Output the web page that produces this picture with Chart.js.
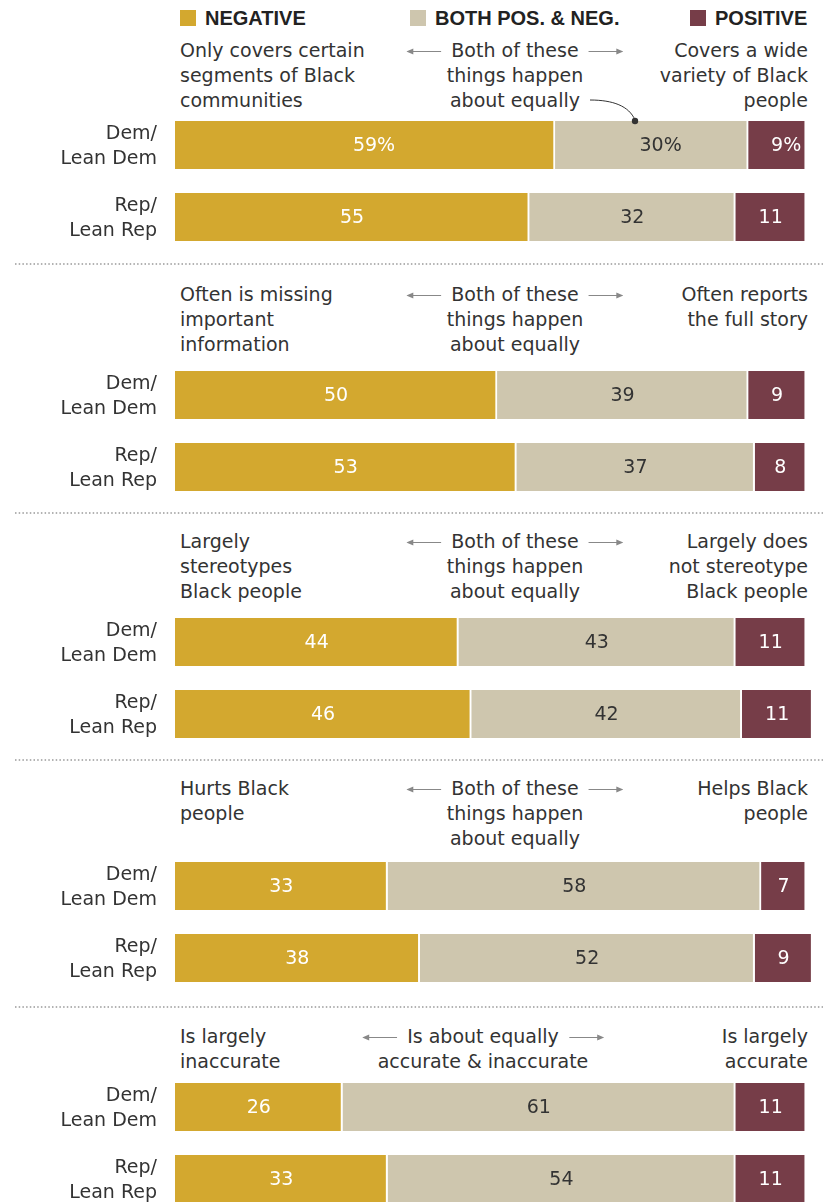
<!DOCTYPE html>
<html>
<head>
<meta charset="utf-8">
<script src="https://cdn.jsdelivr.net/npm/chart.js@4.4.1/dist/chart.umd.min.js"></script>
<style>
  body { margin:0; width:823px; height:1202px; overflow:hidden; background:#fff; position:relative;
         font-family:"DejaVu Sans", "Liberation Sans", Arial, sans-serif; color:#333; }
  .abs { position:absolute; white-space:nowrap; }
  .swatch { width:16px; height:16px; top:10px; }
  .legend { top:5px; font-family:"Liberation Sans", Arial, sans-serif; font-size:20px; line-height:26px; font-weight:bold; color:#222; }
  .hdr { font-size:19px; line-height:25px; }
  .hdr.left { left:180px; text-align:left; }
  .hdr.right { right:15px; text-align:right; }
  .hdr.mid { text-align:center; transform:translateX(-50%); }
  .hdr svg { vertical-align:middle; margin:0 10px; }
  canvas { position:absolute; left:0; }
  #overlay { position:absolute; left:0; top:0; z-index:5; pointer-events:none; }
</style>
</head>
<body>
<script>
// Survey values, one [Dem, Rep] pair per question
const groups = [['Dem/', 'Lean Dem'], ['Rep/', 'Lean Rep']];
const negative = [[59, 55], [50, 53], [44, 46], [33, 38], [26, 33]];
const both     = [[30, 32], [39, 37], [43, 42], [58, 52], [61, 54]];
const positive = [[9, 11], [9, 8], [11, 11], [7, 9], [11, 11]];

// Answer wording shown above each pair of bars
const leftText = [
  ['Only covers certain', 'segments of Black', 'communities'],
  ['Often is missing', 'important', 'information'],
  ['Largely', 'stereotypes', 'Black people'],
  ['Hurts Black', 'people'],
  ['Is largely', 'inaccurate']
];
const midText = [
  ['Both of these', 'things happen', 'about equally'],
  ['Both of these', 'things happen', 'about equally'],
  ['Both of these', 'things happen', 'about equally'],
  ['Both of these', 'things happen', 'about equally'],
  ['Is about equally', 'accurate & inaccurate']
];
const rightText = [
  ['Covers a wide', 'variety of Black', 'people'],
  ['Often reports', 'the full story'],
  ['Largely does', 'not stereotype', 'Black people'],
  ['Helps Black', 'people'],
  ['Is largely', 'accurate']
];
const legendNames = ['NEGATIVE', 'BOTH POS. & NEG.', 'POSITIVE'];

const colors = ['#D3A82F', '#CEC6AE', '#763D48'];
const labelColors = ['#fff', '#333', '#fff'];

// layout
const headerTops = [38, 282, 529, 776, 1024];
const midCenters = [515, 515, 515, 515, 483];
const chartTops = [109, 359, 606, 850, 1071];
const ruleYs = [264, 513, 760, 1007];
const legendX = [180, 410, 690];
const bodyFont = '"DejaVu Sans", "Liberation Sans", Arial, sans-serif';

Chart.defaults.font.family = bodyFont;

function el(tag, cls, css, html) {
  const d = document.createElement(tag);
  if (cls) d.className = cls;
  Object.assign(d.style, css);
  if (html !== undefined) d.innerHTML = html;
  document.body.appendChild(d);
  return d;
}

// legend
legendNames.forEach((name, i) => {
  el('div', 'abs swatch', { left: legendX[i] + 'px', background: colors[i] });
  el('div', 'abs legend', { left: (legendX[i] + 25) + 'px' }, name);
});

const arrowL = '<svg width="35" height="9"><line x1="5" y1="4.5" x2="35" y2="4.5" stroke="#888" stroke-width="1"/><polygon points="0,4.5 7,1.5 7,7.5" fill="#888"/></svg>';
const arrowR = '<svg width="35" height="9"><line x1="0" y1="4.5" x2="30" y2="4.5" stroke="#888" stroke-width="1"/><polygon points="35,4.5 28,1.5 28,7.5" fill="#888"/></svg>';

// draws the numbers inside the bar segments
function valueLabels(panel) {
  return {
    id: 'valueLabels',
    afterDatasetsDraw(chart) {
      const ctx = chart.ctx;
      ctx.save();
      ctx.font = '19px ' + bodyFont;
      ctx.textBaseline = 'middle';
      chart.data.datasets.forEach((ds, di) => {
        chart.getDatasetMeta(di).data.forEach((bar, j) => {
          const txt = String(ds.data[j]);
          const cx = (bar.x + bar.base) / 2;
          ctx.fillStyle = labelColors[di];
          ctx.textAlign = 'center';
          ctx.fillText(txt, cx, bar.y + 1);
          if (panel === 0 && j === 0) {
            ctx.textAlign = 'left';
            ctx.fillText('%', cx + ctx.measureText(txt).width / 2, bar.y + 1);
          }
        });
      });
      ctx.restore();
    }
  };
}

for (let i = 0; i < negative.length; i++) {
  el('div', 'abs hdr left', { top: headerTops[i] + 'px' }, leftText[i].join('<br>'));
  const mid = midText[i].slice();
  mid[0] = arrowL + mid[0] + arrowR;
  el('div', 'abs hdr mid', { top: headerTops[i] + 'px', left: midCenters[i] + 'px' }, mid.join('<br>'));
  el('div', 'abs hdr right', { top: headerTops[i] + 'px' }, rightText[i].join('<br>'));

  const canvas = document.createElement('canvas');
  canvas.width = 823;
  canvas.height = 144;
  canvas.style.top = chartTops[i] + 'px';
  document.body.appendChild(canvas);

  new Chart(canvas, {
    type: 'bar',
    data: {
      labels: groups,
      datasets: [
        { label: legendNames[0], data: negative[i], backgroundColor: colors[0] },
        { label: legendNames[1], data: both[i], backgroundColor: colors[1] },
        { label: legendNames[2], data: positive[i], backgroundColor: colors[2] }
      ]
    },
    options: {
      indexAxis: 'y',
      responsive: false,
      animation: false,
      layout: { padding: { left: 0, right: 4, top: 0, bottom: 0 } },
      datasets: {
        bar: {
          barThickness: 48,
          borderColor: '#fff',
          borderWidth: { top: 0, bottom: 0, left: 0, right: 2 },
          borderSkipped: false
        }
      },
      plugins: { legend: { display: false }, tooltip: { enabled: false } },
      scales: {
        x: { stacked: true, min: 0, max: 100, display: false },
        y: {
          stacked: true,
          grid: { display: false, drawTicks: false },
          border: { display: false },
          ticks: { color: '#333', padding: 18, labelOffset: 2, font: { size: 19, lineHeight: 1.32 } },
          afterFit(scale) {
            // keep the two-line labels from shrinking the bar area
            scale.width = 175;
            scale.paddingTop = 0;
            scale.paddingBottom = 0;
          }
        }
      }
    },
    plugins: [valueLabels(i)]
  });
}

// dotted rules between questions and the callout on the first chart
let svg = '<svg id="overlay" width="823" height="1202">';
ruleYs.forEach(y => {
  svg += '<line x1="15" y1="' + y + '" x2="823" y2="' + y + '" stroke="#999" stroke-width="1.5" stroke-dasharray="1.5 2.2"/>';
});
svg += '<path d="M590,100 C613,100 629,106 635,120" fill="none" stroke="#333" stroke-width="1"/>';
svg += '<circle cx="635" cy="121" r="3.2" fill="#333"/>';
svg += '</svg>';
document.body.insertAdjacentHTML('beforeend', svg);
</script>
</body>
</html>
